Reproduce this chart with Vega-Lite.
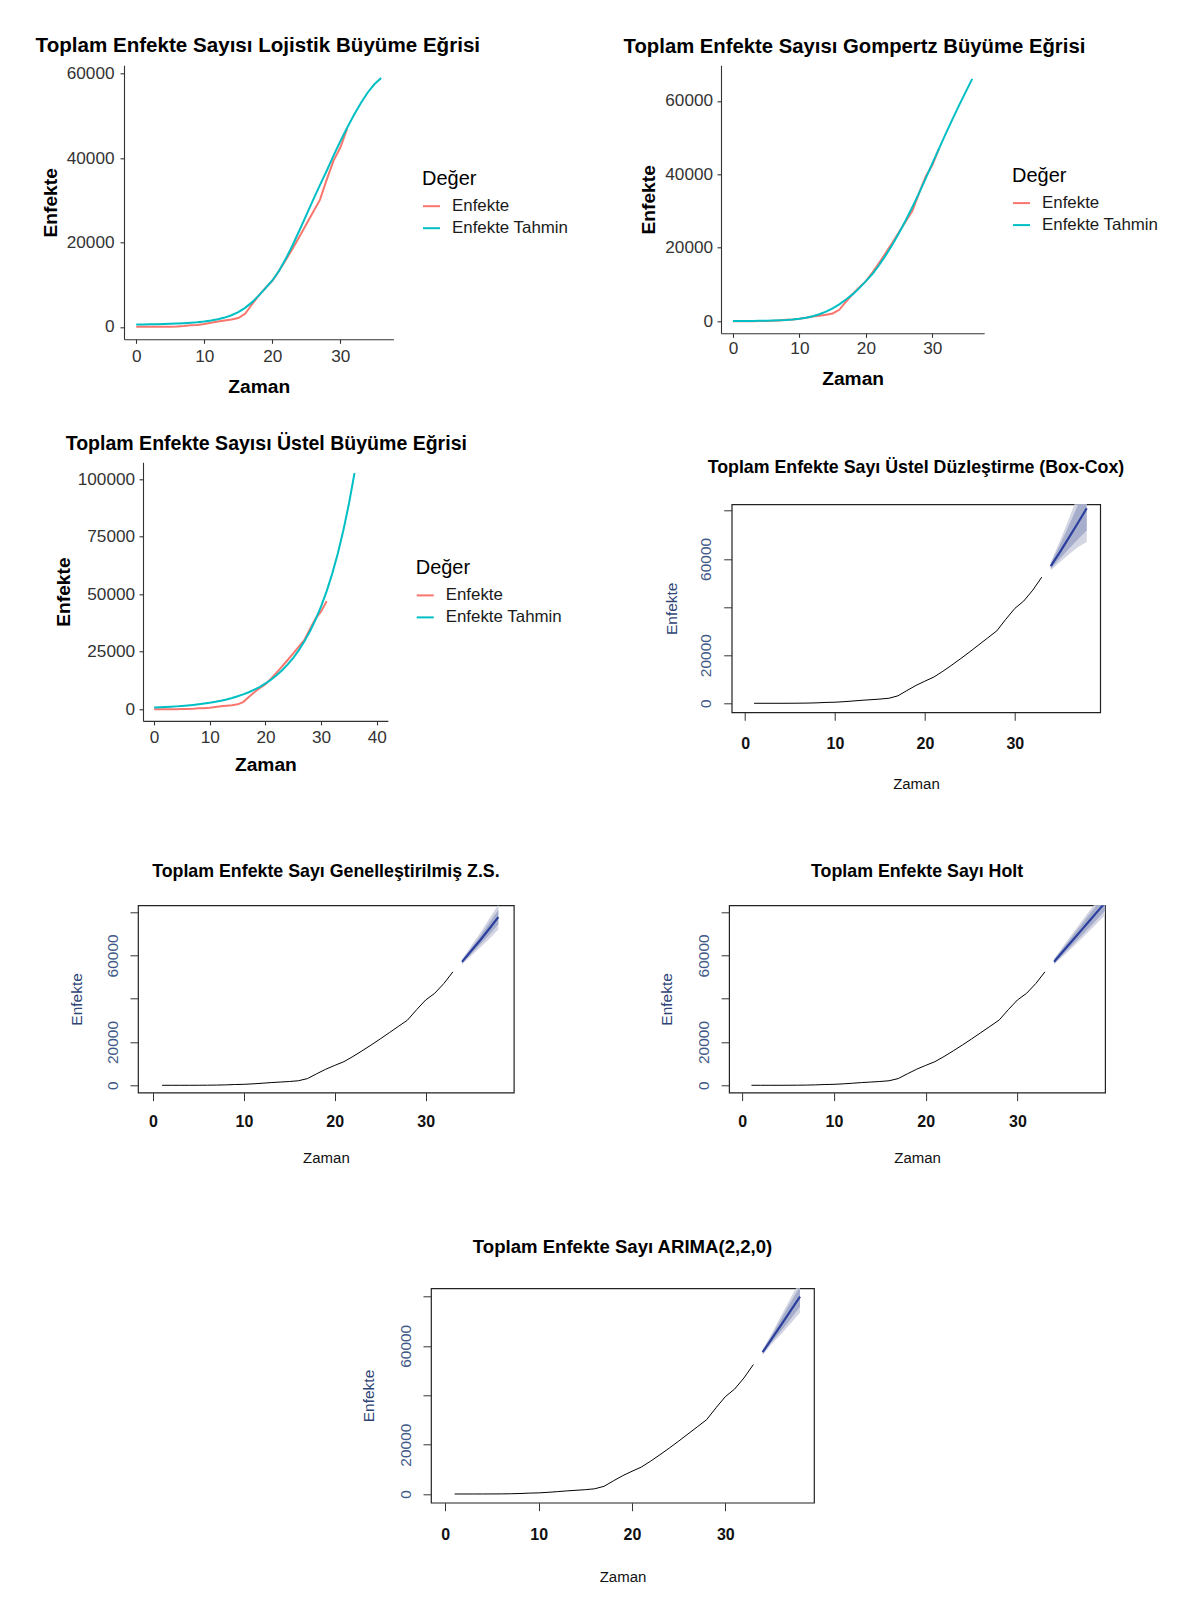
{
"$schema": "https://vega.github.io/schema/vega-lite/v6.json",
"background": "white",
"padding": {"left": 0, "top": 35.3, "right": 0, "bottom": 0},
"config": {"font": "Liberation Sans", "view": {"stroke": null}, "axis": {"grid": false}, "legend": {"padding": 0}},
"datasets": {
"gg": [
{"m":"obs","Seri":"Enfekte","Zaman":0,"Enfekte":1},{"m":"obs","Seri":"Enfekte","Zaman":1,"Enfekte":1},{"m":"obs","Seri":"Enfekte","Zaman":2,"Enfekte":5},{"m":"obs","Seri":"Enfekte","Zaman":3,"Enfekte":6},{"m":"obs","Seri":"Enfekte","Zaman":4,"Enfekte":18},{"m":"obs","Seri":"Enfekte","Zaman":5,"Enfekte":47},{"m":"obs","Seri":"Enfekte","Zaman":6,"Enfekte":98},{"m":"obs","Seri":"Enfekte","Zaman":7,"Enfekte":191},{"m":"obs","Seri":"Enfekte","Zaman":8,"Enfekte":359},{"m":"obs","Seri":"Enfekte","Zaman":9,"Enfekte":450},{"m":"obs","Seri":"Enfekte","Zaman":10,"Enfekte":670},{"m":"obs","Seri":"Enfekte","Zaman":11,"Enfekte":950},{"m":"obs","Seri":"Enfekte","Zaman":12,"Enfekte":1250},{"m":"obs","Seri":"Enfekte","Zaman":13,"Enfekte":1500},{"m":"obs","Seri":"Enfekte","Zaman":14,"Enfekte":1750},{"m":"obs","Seri":"Enfekte","Zaman":15,"Enfekte":2100},{"m":"obs","Seri":"Enfekte","Zaman":16,"Enfekte":3100},{"m":"obs","Seri":"Enfekte","Zaman":17,"Enfekte":5300},{"m":"obs","Seri":"Enfekte","Zaman":18,"Enfekte":7400},{"m":"obs","Seri":"Enfekte","Zaman":19,"Enfekte":9200},{"m":"obs","Seri":"Enfekte","Zaman":20,"Enfekte":10900},{"m":"obs","Seri":"Enfekte","Zaman":21,"Enfekte":13300},{"m":"obs","Seri":"Enfekte","Zaman":22,"Enfekte":15900},{"m":"obs","Seri":"Enfekte","Zaman":23,"Enfekte":18600},{"m":"obs","Seri":"Enfekte","Zaman":24,"Enfekte":21400},{"m":"obs","Seri":"Enfekte","Zaman":25,"Enfekte":24300},{"m":"obs","Seri":"Enfekte","Zaman":26,"Enfekte":27200},{"m":"obs","Seri":"Enfekte","Zaman":27,"Enfekte":30100},{"m":"obs","Seri":"Enfekte","Zaman":28,"Enfekte":34900},{"m":"obs","Seri":"Enfekte","Zaman":29,"Enfekte":39400},{"m":"obs","Seri":"Enfekte","Zaman":30,"Enfekte":42500},{"m":"obs","Seri":"Enfekte","Zaman":31,"Enfekte":47000},
{"m":"L","Seri":"Enfekte Tahmin","Zaman":0,"Enfekte":550},{"m":"L","Seri":"Enfekte Tahmin","Zaman":1,"Enfekte":570},{"m":"L","Seri":"Enfekte Tahmin","Zaman":2,"Enfekte":600},{"m":"L","Seri":"Enfekte Tahmin","Zaman":3,"Enfekte":630},{"m":"L","Seri":"Enfekte Tahmin","Zaman":4,"Enfekte":670},{"m":"L","Seri":"Enfekte Tahmin","Zaman":5,"Enfekte":720},{"m":"L","Seri":"Enfekte Tahmin","Zaman":6,"Enfekte":780},{"m":"L","Seri":"Enfekte Tahmin","Zaman":7,"Enfekte":860},{"m":"L","Seri":"Enfekte Tahmin","Zaman":8,"Enfekte":960},{"m":"L","Seri":"Enfekte Tahmin","Zaman":9,"Enfekte":1090},{"m":"L","Seri":"Enfekte Tahmin","Zaman":10,"Enfekte":1270},{"m":"L","Seri":"Enfekte Tahmin","Zaman":11,"Enfekte":1500},{"m":"L","Seri":"Enfekte Tahmin","Zaman":12,"Enfekte":1800},{"m":"L","Seri":"Enfekte Tahmin","Zaman":13,"Enfekte":2200},{"m":"L","Seri":"Enfekte Tahmin","Zaman":14,"Enfekte":2750},{"m":"L","Seri":"Enfekte Tahmin","Zaman":15,"Enfekte":3500},{"m":"L","Seri":"Enfekte Tahmin","Zaman":16,"Enfekte":4500},{"m":"L","Seri":"Enfekte Tahmin","Zaman":17,"Enfekte":5800},{"m":"L","Seri":"Enfekte Tahmin","Zaman":18,"Enfekte":7400},{"m":"L","Seri":"Enfekte Tahmin","Zaman":19,"Enfekte":9200},{"m":"L","Seri":"Enfekte Tahmin","Zaman":20,"Enfekte":11000},{"m":"L","Seri":"Enfekte Tahmin","Zaman":21,"Enfekte":13300},{"m":"L","Seri":"Enfekte Tahmin","Zaman":22,"Enfekte":16200},{"m":"L","Seri":"Enfekte Tahmin","Zaman":23,"Enfekte":19400},{"m":"L","Seri":"Enfekte Tahmin","Zaman":24,"Enfekte":22900},{"m":"L","Seri":"Enfekte Tahmin","Zaman":25,"Enfekte":26500},{"m":"L","Seri":"Enfekte Tahmin","Zaman":26,"Enfekte":30100},{"m":"L","Seri":"Enfekte Tahmin","Zaman":27,"Enfekte":33600},{"m":"L","Seri":"Enfekte Tahmin","Zaman":28,"Enfekte":37000},{"m":"L","Seri":"Enfekte Tahmin","Zaman":29,"Enfekte":40600},{"m":"L","Seri":"Enfekte Tahmin","Zaman":30,"Enfekte":44000},{"m":"L","Seri":"Enfekte Tahmin","Zaman":31,"Enfekte":47200},{"m":"L","Seri":"Enfekte Tahmin","Zaman":32,"Enfekte":50200},{"m":"L","Seri":"Enfekte Tahmin","Zaman":33,"Enfekte":53000},{"m":"L","Seri":"Enfekte Tahmin","Zaman":34,"Enfekte":55500},{"m":"L","Seri":"Enfekte Tahmin","Zaman":35,"Enfekte":57500},{"m":"L","Seri":"Enfekte Tahmin","Zaman":36,"Enfekte":59000},
{"m":"G","Seri":"Enfekte Tahmin","Zaman":0,"Enfekte":20},{"m":"G","Seri":"Enfekte Tahmin","Zaman":1,"Enfekte":30},{"m":"G","Seri":"Enfekte Tahmin","Zaman":2,"Enfekte":45},{"m":"G","Seri":"Enfekte Tahmin","Zaman":3,"Enfekte":65},{"m":"G","Seri":"Enfekte Tahmin","Zaman":4,"Enfekte":95},{"m":"G","Seri":"Enfekte Tahmin","Zaman":5,"Enfekte":130},{"m":"G","Seri":"Enfekte Tahmin","Zaman":6,"Enfekte":180},{"m":"G","Seri":"Enfekte Tahmin","Zaman":7,"Enfekte":250},{"m":"G","Seri":"Enfekte Tahmin","Zaman":8,"Enfekte":340},{"m":"G","Seri":"Enfekte Tahmin","Zaman":9,"Enfekte":470},{"m":"G","Seri":"Enfekte Tahmin","Zaman":10,"Enfekte":650},{"m":"G","Seri":"Enfekte Tahmin","Zaman":11,"Enfekte":950},{"m":"G","Seri":"Enfekte Tahmin","Zaman":12,"Enfekte":1350},{"m":"G","Seri":"Enfekte Tahmin","Zaman":13,"Enfekte":1900},{"m":"G","Seri":"Enfekte Tahmin","Zaman":14,"Enfekte":2600},{"m":"G","Seri":"Enfekte Tahmin","Zaman":15,"Enfekte":3500},{"m":"G","Seri":"Enfekte Tahmin","Zaman":16,"Enfekte":4600},{"m":"G","Seri":"Enfekte Tahmin","Zaman":17,"Enfekte":5900},{"m":"G","Seri":"Enfekte Tahmin","Zaman":18,"Enfekte":7300},{"m":"G","Seri":"Enfekte Tahmin","Zaman":19,"Enfekte":9000},{"m":"G","Seri":"Enfekte Tahmin","Zaman":20,"Enfekte":10900},{"m":"G","Seri":"Enfekte Tahmin","Zaman":21,"Enfekte":12900},{"m":"G","Seri":"Enfekte Tahmin","Zaman":22,"Enfekte":15300},{"m":"G","Seri":"Enfekte Tahmin","Zaman":23,"Enfekte":18000},{"m":"G","Seri":"Enfekte Tahmin","Zaman":24,"Enfekte":20900},{"m":"G","Seri":"Enfekte Tahmin","Zaman":25,"Enfekte":24100},{"m":"G","Seri":"Enfekte Tahmin","Zaman":26,"Enfekte":27500},{"m":"G","Seri":"Enfekte Tahmin","Zaman":27,"Enfekte":31100},{"m":"G","Seri":"Enfekte Tahmin","Zaman":28,"Enfekte":34900},{"m":"G","Seri":"Enfekte Tahmin","Zaman":29,"Enfekte":38900},{"m":"G","Seri":"Enfekte Tahmin","Zaman":30,"Enfekte":43000},{"m":"G","Seri":"Enfekte Tahmin","Zaman":31,"Enfekte":47000},{"m":"G","Seri":"Enfekte Tahmin","Zaman":32,"Enfekte":51000},{"m":"G","Seri":"Enfekte Tahmin","Zaman":33,"Enfekte":54900},{"m":"G","Seri":"Enfekte Tahmin","Zaman":34,"Enfekte":58700},{"m":"G","Seri":"Enfekte Tahmin","Zaman":35,"Enfekte":62400},{"m":"G","Seri":"Enfekte Tahmin","Zaman":36,"Enfekte":66000},
{"m":"U","Seri":"Enfekte Tahmin","Zaman":0,"Enfekte":700},{"m":"U","Seri":"Enfekte Tahmin","Zaman":1,"Enfekte":804},{"m":"U","Seri":"Enfekte Tahmin","Zaman":2,"Enfekte":924},{"m":"U","Seri":"Enfekte Tahmin","Zaman":3,"Enfekte":1061},{"m":"U","Seri":"Enfekte Tahmin","Zaman":4,"Enfekte":1218},{"m":"U","Seri":"Enfekte Tahmin","Zaman":5,"Enfekte":1400},{"m":"U","Seri":"Enfekte Tahmin","Zaman":6,"Enfekte":1607},{"m":"U","Seri":"Enfekte Tahmin","Zaman":7,"Enfekte":1846},{"m":"U","Seri":"Enfekte Tahmin","Zaman":8,"Enfekte":2121},{"m":"U","Seri":"Enfekte Tahmin","Zaman":9,"Enfekte":2436},{"m":"U","Seri":"Enfekte Tahmin","Zaman":10,"Enfekte":2798},{"m":"U","Seri":"Enfekte Tahmin","Zaman":11,"Enfekte":3214},{"m":"U","Seri":"Enfekte Tahmin","Zaman":12,"Enfekte":3692},{"m":"U","Seri":"Enfekte Tahmin","Zaman":13,"Enfekte":4240},{"m":"U","Seri":"Enfekte Tahmin","Zaman":14,"Enfekte":4870},{"m":"U","Seri":"Enfekte Tahmin","Zaman":15,"Enfekte":5594},{"m":"U","Seri":"Enfekte Tahmin","Zaman":16,"Enfekte":6426},{"m":"U","Seri":"Enfekte Tahmin","Zaman":17,"Enfekte":7381},{"m":"U","Seri":"Enfekte Tahmin","Zaman":18,"Enfekte":8477},{"m":"U","Seri":"Enfekte Tahmin","Zaman":19,"Enfekte":9737},{"m":"U","Seri":"Enfekte Tahmin","Zaman":20,"Enfekte":11185},{"m":"U","Seri":"Enfekte Tahmin","Zaman":21,"Enfekte":12847},{"m":"U","Seri":"Enfekte Tahmin","Zaman":22,"Enfekte":14756},{"m":"U","Seri":"Enfekte Tahmin","Zaman":23,"Enfekte":16949},{"m":"U","Seri":"Enfekte Tahmin","Zaman":24,"Enfekte":19468},{"m":"U","Seri":"Enfekte Tahmin","Zaman":25,"Enfekte":22361},{"m":"U","Seri":"Enfekte Tahmin","Zaman":26,"Enfekte":25685},{"m":"U","Seri":"Enfekte Tahmin","Zaman":27,"Enfekte":29502},{"m":"U","Seri":"Enfekte Tahmin","Zaman":28,"Enfekte":33887},{"m":"U","Seri":"Enfekte Tahmin","Zaman":29,"Enfekte":38923},{"m":"U","Seri":"Enfekte Tahmin","Zaman":30,"Enfekte":44707},{"m":"U","Seri":"Enfekte Tahmin","Zaman":31,"Enfekte":51352},{"m":"U","Seri":"Enfekte Tahmin","Zaman":32,"Enfekte":58984},{"m":"U","Seri":"Enfekte Tahmin","Zaman":33,"Enfekte":67750},{"m":"U","Seri":"Enfekte Tahmin","Zaman":34,"Enfekte":77820},{"m":"U","Seri":"Enfekte Tahmin","Zaman":35,"Enfekte":89386},{"m":"U","Seri":"Enfekte Tahmin","Zaman":36,"Enfekte":102670}
],
"seri": [
{"Zaman":1,"Enfekte":1},{"Zaman":2,"Enfekte":1},{"Zaman":3,"Enfekte":5},{"Zaman":4,"Enfekte":6},{"Zaman":5,"Enfekte":18},{"Zaman":6,"Enfekte":47},{"Zaman":7,"Enfekte":98},{"Zaman":8,"Enfekte":191},{"Zaman":9,"Enfekte":359},{"Zaman":10,"Enfekte":450},{"Zaman":11,"Enfekte":670},{"Zaman":12,"Enfekte":950},{"Zaman":13,"Enfekte":1250},{"Zaman":14,"Enfekte":1500},{"Zaman":15,"Enfekte":1750},{"Zaman":16,"Enfekte":2100},{"Zaman":17,"Enfekte":3100},{"Zaman":18,"Enfekte":5300},{"Zaman":19,"Enfekte":7400},{"Zaman":20,"Enfekte":9200},{"Zaman":21,"Enfekte":10900},{"Zaman":22,"Enfekte":13300},{"Zaman":23,"Enfekte":15900},{"Zaman":24,"Enfekte":18600},{"Zaman":25,"Enfekte":21400},{"Zaman":26,"Enfekte":24300},{"Zaman":27,"Enfekte":27200},{"Zaman":28,"Enfekte":30100},{"Zaman":29,"Enfekte":34900},{"Zaman":30,"Enfekte":39400},{"Zaman":31,"Enfekte":42500},{"Zaman":32,"Enfekte":47000},{"Zaman":33,"Enfekte":52400}
],
"fc": [
{"model":"boxcox","Zaman":34,"mean":57000,"lo80":55900,"hi80":58100,"lo95":55300,"hi95":58700},
{"model":"boxcox","Zaman":35,"mean":62700,"lo80":60000,"hi80":65600,"lo95":58600,"hi95":67200},
{"model":"boxcox","Zaman":36,"mean":68700,"lo80":64100,"hi80":73600,"lo95":61800,"hi95":76400},
{"model":"boxcox","Zaman":37,"mean":74800,"lo80":68000,"hi80":82200,"lo95":64800,"hi95":86400},
{"model":"boxcox","Zaman":38,"mean":81000,"lo80":71800,"hi80":91000,"lo95":67000,"hi95":97000},
{"model":"gzs","Zaman":34,"mean":57000,"lo80":56300,"hi80":57700,"lo95":55800,"hi95":58200},
{"model":"gzs","Zaman":35,"mean":62000,"lo80":60700,"hi80":63300,"lo95":59700,"hi95":64300},
{"model":"gzs","Zaman":36,"mean":67000,"lo80":65000,"hi80":69000,"lo95":63600,"hi95":70400},
{"model":"gzs","Zaman":37,"mean":72300,"lo80":69500,"hi80":75100,"lo95":67600,"hi95":77000},
{"model":"gzs","Zaman":38,"mean":77700,"lo80":74400,"hi80":81000,"lo95":72000,"hi95":83400},
{"model":"holt","Zaman":34,"mean":57100,"lo80":56250,"hi80":57950,"lo95":55800,"hi95":58400},
{"model":"holt","Zaman":35,"mean":62000,"lo80":60500,"hi80":63500,"lo95":59700,"hi95":64300},
{"model":"holt","Zaman":36,"mean":66900,"lo80":64800,"hi80":69000,"lo95":63700,"hi95":70100},
{"model":"holt","Zaman":37,"mean":71800,"lo80":69200,"hi80":74400,"lo95":67800,"hi95":75800},
{"model":"holt","Zaman":38,"mean":76700,"lo80":73600,"hi80":79800,"lo95":72000,"hi95":81400},
{"model":"holt","Zaman":39,"mean":81600,"lo80":78100,"hi80":85100,"lo95":76200,"hi95":87000},
{"model":"holt","Zaman":40,"mean":86500,"lo80":82600,"hi80":90400,"lo95":80500,"hi95":92500},
{"model":"arima","Zaman":34,"mean":57400,"lo80":56700,"hi80":58100,"lo95":56300,"hi95":58500},
{"model":"arima","Zaman":35,"mean":63000,"lo80":61600,"hi80":64400,"lo95":60800,"hi95":65200},
{"model":"arima","Zaman":36,"mean":68600,"lo80":66100,"hi80":71100,"lo95":64800,"hi95":72400},
{"model":"arima","Zaman":37,"mean":74200,"lo80":70800,"hi80":77600,"lo95":69000,"hi95":79400},
{"model":"arima","Zaman":38,"mean":79900,"lo80":75800,"hi80":84000,"lo95":73500,"hi95":86300}
]
},
"spacing": 0,
"align": "none",
"resolve": {"scale": {"x": "independent", "y": "independent", "color": "independent"}, "axis": {"x": "independent", "y": "independent"}, "legend": {"color": "independent"}},
"vconcat": [
{
"hconcat": [
{"width": 34.4, "height": 1, "data": {"values": []}, "mark": "point", "encoding": {}},
{
"hconcat": [
{
"width": 269.4, "height": 274,
"data": {"name": "gg"},
"transform": [{"filter": "datum.m == 'obs' || datum.m == 'L'"}],
"title": {"text": "Toplam Enfekte Sayısı Lojistik Büyüme Eğrisi", "anchor": "start", "frame": "group", "dx": -88.4, "offset": 8, "fontSize": 20.6, "fontWeight": "bold", "color": "#000"},
"mark": {"type": "line", "strokeWidth": 2},
"encoding": {
"x": {"field": "Zaman", "type": "quantitative", "scale": {"domain": [-1.8, 37.8], "nice": false, "zero": false},
 "axis": {"values": [0, 10, 20, 30], "domainColor": "#333", "domainWidth": 1.1, "tickColor": "#333", "tickWidth": 1.1, "tickSize": 4, "labelFontSize": 17.2, "labelColor": "#333", "labelPadding": 4, "labelFlush": false, "labelOverlap": false, "title": "Zaman", "titleFontSize": 19.2, "titleFontWeight": "bold", "titleColor": "#000", "titleX": 134.7, "titleY": 47.7, "titleBaseline": "middle", "titleAlign": "center"}},
"y": {"field": "Enfekte", "type": "quantitative", "scale": {"domain": [-2950, 62000], "nice": false, "zero": false},
 "axis": {"values": [0, 20000, 40000, 60000], "format": "d", "domainColor": "#333", "domainWidth": 1.1, "tickColor": "#333", "tickWidth": 1.1, "tickSize": 4, "labelFontSize": 17.2, "labelColor": "#333", "labelPadding": 6, "labelFlush": false, "labelOverlap": false, "title": "Enfekte", "titleFontSize": 19.2, "titleFontWeight": "bold", "titleColor": "#000", "titleX": -73.1, "titleY": 137, "titleAngle": 270, "titleBaseline": "middle", "titleAlign": "center"}},
"color": {"field": "Seri", "type": "nominal", "scale": {"domain": ["Enfekte", "Enfekte Tahmin"], "range": ["#F8766D", "#00BFC4"]},
 "legend": {"title": "Değer", "orient": "none", "legendX": 298, "legendY": 103.4, "titleFontSize": 20, "titleFontWeight": "normal", "titleColor": "#000", "titlePadding": 8, "labelFontSize": 16.9, "labelColor": "#1a1a1a", "symbolType": "stroke", "symbolStrokeWidth": 2, "symbolSize": 289, "labelOffset": 11, "rowPadding": 4, "padding": 0}}
}
},
{
"width": 263.2, "height": 268,
"data": {"name": "gg"},
"transform": [{"filter": "datum.m == 'obs' || datum.m == 'G'"}],
"title": {"text": "Toplam Enfekte Sayısı Gompertz Büyüme Eğrisi", "anchor": "start", "frame": "group", "dx": -97.4, "offset": 8, "fontSize": 20.3, "fontWeight": "bold", "color": "#000"},
"mark": {"type": "line", "strokeWidth": 2},
"encoding": {
"x": {"field": "Zaman", "type": "quantitative", "scale": {"domain": [-1.8, 37.8], "nice": false, "zero": false},
 "axis": {"values": [0, 10, 20, 30], "domainColor": "#333", "domainWidth": 1.1, "tickColor": "#333", "tickWidth": 1.1, "tickSize": 4, "labelFontSize": 17.2, "labelColor": "#333", "labelPadding": 2.6, "labelFlush": false, "labelOverlap": false, "title": "Zaman", "titleFontSize": 19.2, "titleFontWeight": "bold", "titleColor": "#000", "titleX": 131.6, "titleY": 45, "titleBaseline": "middle", "titleAlign": "center"}},
"y": {"field": "Enfekte", "type": "quantitative", "scale": {"domain": [-3300, 69700], "nice": false, "zero": false},
 "axis": {"values": [0, 20000, 40000, 60000], "format": "d", "domainColor": "#333", "domainWidth": 1.1, "tickColor": "#333", "tickWidth": 1.1, "tickSize": 4, "labelFontSize": 17.2, "labelColor": "#333", "labelPadding": 4.4, "labelFlush": false, "labelOverlap": false, "title": "Enfekte", "titleFontSize": 19.2, "titleFontWeight": "bold", "titleColor": "#000", "titleX": -72.8, "titleY": 134, "titleAngle": 270, "titleBaseline": "middle", "titleAlign": "center"}},
"color": {"field": "Seri", "type": "nominal", "scale": {"domain": ["Enfekte", "Enfekte Tahmin"], "range": ["#F8766D", "#00BFC4"]},
 "legend": {"title": "Değer", "orient": "none", "legendX": 291, "legendY": 100.3, "titleFontSize": 20, "titleFontWeight": "normal", "titleColor": "#000", "titlePadding": 8, "labelFontSize": 16.9, "labelColor": "#1a1a1a", "symbolType": "stroke", "symbolStrokeWidth": 2, "symbolSize": 289, "labelOffset": 11, "rowPadding": 4, "padding": 0}}
}
}
],
"spacing": 54,
"align": "none",
"resolve": {"scale": {"x": "independent", "y": "independent", "color": "independent"}, "axis": {"x": "independent", "y": "independent"}, "legend": {"color": "independent"}}
}
],
"spacing": 0,
"align": "none"
},
{"width": 1, "height": 35, "data": {"values": []}, "mark": "point", "encoding": {}},
{
"hconcat": [
{"width": 54, "height": 1, "data": {"values": []}, "mark": "point", "encoding": {}},
{
"hconcat": [
{
"vconcat": [
{"width": 1, "height": 1, "data": {"values": []}, "mark": "point", "encoding": {}},
{
"width": 244.9, "height": 258.6,
"data": {"name": "gg"},
"transform": [{"filter": "datum.m == 'obs' || datum.m == 'U'"}],
"title": {"text": "Toplam Enfekte Sayısı Üstel Büyüme Eğrisi", "anchor": "start", "frame": "group", "dx": -77.3, "offset": 8, "fontSize": 19.55, "fontWeight": "bold", "color": "#000"},
"mark": {"type": "line", "strokeWidth": 2},
"encoding": {
"x": {"field": "Zaman", "type": "quantitative", "scale": {"domain": [-2, 42], "nice": false, "zero": false},
 "axis": {"values": [0, 10, 20, 30, 40], "domainColor": "#333", "domainWidth": 1.1, "tickColor": "#333", "tickWidth": 1.1, "tickSize": 4, "labelFontSize": 17.2, "labelColor": "#333", "labelPadding": 3.2, "labelFlush": false, "labelOverlap": false, "title": "Zaman", "titleFontSize": 19.2, "titleFontWeight": "bold", "titleColor": "#000", "titleX": 122.4, "titleY": 43.7, "titleBaseline": "middle", "titleAlign": "center"}},
"y": {"field": "Enfekte", "type": "quantitative", "scale": {"domain": [-5100, 107400], "nice": false, "zero": false},
 "axis": {"values": [0, 25000, 50000, 75000, 100000], "format": "d", "domainColor": "#333", "domainWidth": 1.1, "tickColor": "#333", "tickWidth": 1.1, "tickSize": 4, "labelFontSize": 17.2, "labelColor": "#333", "labelPadding": 4.4, "labelFlush": false, "labelOverlap": false, "title": "Enfekte", "titleFontSize": 19.2, "titleFontWeight": "bold", "titleColor": "#000", "titleX": -79.3, "titleY": 129.3, "titleAngle": 270, "titleBaseline": "middle", "titleAlign": "center"}},
"color": {"field": "Seri", "type": "nominal", "scale": {"domain": ["Enfekte", "Enfekte Tahmin"], "range": ["#F8766D", "#00BFC4"]},
 "legend": {"title": "Değer", "orient": "none", "legendX": 272.7, "legendY": 95.6, "titleFontSize": 20, "titleFontWeight": "normal", "titleColor": "#000", "titlePadding": 8, "labelFontSize": 16.9, "labelColor": "#1a1a1a", "symbolType": "stroke", "symbolStrokeWidth": 2, "symbolSize": 289, "labelOffset": 11, "rowPadding": 4, "padding": 0}}
}
}
],
"spacing": 0,
"align": "none",
"resolve": {"scale": {"color": "independent"}, "legend": {"color": "independent"}}
},
{
"vconcat": [
{"width": 1, "height": 25.5, "data": {"values": []}, "mark": "point", "encoding": {}},
{
"width": 368.5, "height": 208,
"view": {"stroke": "#222", "strokeWidth": 1.2},
"title": {"text": "Toplam Enfekte Sayı Üstel Düzleştirme (Box-Cox)", "anchor": "middle", "frame": "group", "offset": 27, "fontSize": 17.8, "fontWeight": "bold", "color": "#000"},
"encoding": {
"x": {"field": "Zaman", "type": "quantitative", "title": "Zaman", "scale": {"domain": [-1.49, 39.5], "nice": false, "zero": false},
 "axis": {"values": [0, 10, 20, 30], "domain": false, "tickSize": 8, "tickColor": "#333", "tickWidth": 1, "labelFontSize": 16, "labelFontWeight": "bold", "labelColor": "#111", "labelPadding": 15, "labelFlush": false, "labelOverlap": false, "titleFontSize": 15, "titleFontWeight": "normal", "titleColor": "#111", "titleX": 184.25, "titleY": 71.7, "titleBaseline": "middle", "titleAlign": "center"}}
},
"layer": [
{"data": {"name": "fc"}, "transform": [{"filter": "datum.model == 'boxcox'"}], "mark": {"type": "area", "color": "#D3D6E2", "clip": true},
 "encoding": {"y": {"field": "lo95", "type": "quantitative", "title": "Enfekte", "scale": {"domain": [-3738, 82658], "nice": false, "zero": false},
  "axis": {"values": [0, 20000, 40000, 60000, 80000], "format": "d", "labelExpr": "datum.value == 40000 || datum.value == 80000 ? '' : datum.label", "domain": false, "tickSize": 8, "tickColor": "#333", "tickWidth": 1, "labelAngle": 270, "labelAlign": "center", "labelBaseline": "bottom", "labelPadding": 10, "labelFontSize": 15.5, "labelColor": "#3f5a88", "labelFlush": false, "labelOverlap": false, "titleFontSize": 15.5, "titleFontWeight": "normal", "titleColor": "#2e4476", "titleX": -60.4, "titleY": 104, "titleAngle": 270, "titleBaseline": "middle", "titleAlign": "center"}},
  "y2": {"field": "hi95"}}},
{"data": {"name": "fc"}, "transform": [{"filter": "datum.model == 'boxcox'"}], "mark": {"type": "area", "color": "#A7AECB", "clip": true},
 "encoding": {"y": {"field": "lo80", "type": "quantitative", "title": "Enfekte"}, "y2": {"field": "hi80"}}},
{"data": {"name": "seri"}, "mark": {"type": "line", "color": "#000", "strokeWidth": 1, "clip": true},
 "encoding": {"y": {"field": "Enfekte", "type": "quantitative", "title": "Enfekte"}}},
{"data": {"name": "fc"}, "transform": [{"filter": "datum.model == 'boxcox'"}], "mark": {"type": "line", "color": "#2B3F9E", "strokeWidth": 2.2, "clip": true},
 "encoding": {"y": {"field": "mean", "type": "quantitative", "title": "Enfekte"}}}
]
}
],
"spacing": 0,
"align": "none"
}
],
"spacing": 100.7,
"align": "none",
"resolve": {"scale": {"x": "independent", "y": "independent", "color": "independent"}, "axis": {"x": "independent", "y": "independent"}, "legend": {"color": "independent"}}
}
],
"spacing": 0,
"align": "none"
},
{"width": 1, "height": 68.5, "data": {"values": []}, "mark": "point", "encoding": {}},
{
"hconcat": [
{"width": 67.5, "height": 1, "data": {"values": []}, "mark": "point", "encoding": {}},
{
"hconcat": [
{
"width": 375.8, "height": 187.3,
"view": {"stroke": "#222", "strokeWidth": 1.2},
"title": {"text": "Toplam Enfekte Sayı Genelleştirilmiş Z.S.", "anchor": "middle", "frame": "group", "offset": 24, "fontSize": 17.8, "fontWeight": "bold", "color": "#000"},
"encoding": {
"x": {"field": "Zaman", "type": "quantitative", "title": "Zaman", "scale": {"domain": [-1.65, 39.7], "nice": false, "zero": false},
 "axis": {"values": [0, 10, 20, 30], "domain": false, "tickSize": 8, "tickColor": "#333", "tickWidth": 1, "labelFontSize": 16, "labelFontWeight": "bold", "labelColor": "#111", "labelPadding": 12.7, "labelFlush": false, "labelOverlap": false, "titleFontSize": 15, "titleFontWeight": "normal", "titleColor": "#111", "titleX": 187.9, "titleY": 65, "titleBaseline": "middle", "titleAlign": "center"}}
},
"layer": [
{"data": {"name": "fc"}, "transform": [{"filter": "datum.model == 'gzs'"}], "mark": {"type": "area", "color": "#D3D6E2", "clip": true},
 "encoding": {"y": {"field": "lo95", "type": "quantitative", "title": "Enfekte", "scale": {"domain": [-3372, 83140], "nice": false, "zero": false},
  "axis": {"values": [0, 20000, 40000, 60000, 80000], "format": "d", "labelExpr": "datum.value == 40000 || datum.value == 80000 ? '' : datum.label", "domain": false, "tickSize": 8, "tickColor": "#333", "tickWidth": 1, "labelAngle": 270, "labelAlign": "center", "labelBaseline": "bottom", "labelPadding": 10, "labelFontSize": 15.5, "labelColor": "#3f5a88", "labelFlush": false, "labelOverlap": false, "titleFontSize": 15.5, "titleFontWeight": "normal", "titleColor": "#2e4476", "titleX": -61.6, "titleY": 93.65, "titleAngle": 270, "titleBaseline": "middle", "titleAlign": "center"}},
  "y2": {"field": "hi95"}}},
{"data": {"name": "fc"}, "transform": [{"filter": "datum.model == 'gzs'"}], "mark": {"type": "area", "color": "#A7AECB", "clip": true},
 "encoding": {"y": {"field": "lo80", "type": "quantitative", "title": "Enfekte"}, "y2": {"field": "hi80"}}},
{"data": {"name": "seri"}, "mark": {"type": "line", "color": "#000", "strokeWidth": 1, "clip": true},
 "encoding": {"y": {"field": "Enfekte", "type": "quantitative", "title": "Enfekte"}}},
{"data": {"name": "fc"}, "transform": [{"filter": "datum.model == 'gzs'"}], "mark": {"type": "line", "color": "#2B3F9E", "strokeWidth": 2.2, "clip": true},
 "encoding": {"y": {"field": "mean", "type": "quantitative", "title": "Enfekte"}}}
]
},
{
"width": 376, "height": 187.3,
"view": {"stroke": "#222", "strokeWidth": 1.2},
"title": {"text": "Toplam Enfekte Sayı Holt", "anchor": "middle", "frame": "group", "offset": 24, "fontSize": 17.8, "fontWeight": "bold", "color": "#000"},
"encoding": {
"x": {"field": "Zaman", "type": "quantitative", "title": "Zaman", "scale": {"domain": [-1.44, 39.56], "nice": false, "zero": false},
 "axis": {"values": [0, 10, 20, 30], "domain": false, "tickSize": 8, "tickColor": "#333", "tickWidth": 1, "labelFontSize": 16, "labelFontWeight": "bold", "labelColor": "#111", "labelPadding": 12.7, "labelFlush": false, "labelOverlap": false, "titleFontSize": 15, "titleFontWeight": "normal", "titleColor": "#111", "titleX": 188, "titleY": 64.7, "titleBaseline": "middle", "titleAlign": "center"}}
},
"layer": [
{"data": {"name": "fc"}, "transform": [{"filter": "datum.model == 'holt'"}], "mark": {"type": "area", "color": "#D3D6E2", "clip": true},
 "encoding": {"y": {"field": "lo95", "type": "quantitative", "title": "Enfekte", "scale": {"domain": [-3372, 83140], "nice": false, "zero": false},
  "axis": {"values": [0, 20000, 40000, 60000, 80000], "format": "d", "labelExpr": "datum.value == 40000 || datum.value == 80000 ? '' : datum.label", "domain": false, "tickSize": 8, "tickColor": "#333", "tickWidth": 1, "labelAngle": 270, "labelAlign": "center", "labelBaseline": "bottom", "labelPadding": 10, "labelFontSize": 15.5, "labelColor": "#3f5a88", "labelFlush": false, "labelOverlap": false, "titleFontSize": 15.5, "titleFontWeight": "normal", "titleColor": "#2e4476", "titleX": -62.6, "titleY": 93.65, "titleAngle": 270, "titleBaseline": "middle", "titleAlign": "center"}},
  "y2": {"field": "hi95"}}},
{"data": {"name": "fc"}, "transform": [{"filter": "datum.model == 'holt'"}], "mark": {"type": "area", "color": "#A7AECB", "clip": true},
 "encoding": {"y": {"field": "lo80", "type": "quantitative", "title": "Enfekte"}, "y2": {"field": "hi80"}}},
{"data": {"name": "seri"}, "mark": {"type": "line", "color": "#000", "strokeWidth": 1, "clip": true},
 "encoding": {"y": {"field": "Enfekte", "type": "quantitative", "title": "Enfekte"}}},
{"data": {"name": "fc"}, "transform": [{"filter": "datum.model == 'holt'"}], "mark": {"type": "line", "color": "#2B3F9E", "strokeWidth": 2.2, "clip": true},
 "encoding": {"y": {"field": "mean", "type": "quantitative", "title": "Enfekte"}}}
]
}
],
"spacing": 143.1,
"align": "none",
"resolve": {"scale": {"x": "independent", "y": "independent"}, "axis": {"x": "independent", "y": "independent"}}
}
],
"spacing": 0,
"align": "none"
},
{"width": 1, "height": 70.4, "data": {"values": []}, "mark": "point", "encoding": {}},
{
"hconcat": [
{"width": 359.5, "height": 1, "data": {"values": []}, "mark": "point", "encoding": {}},
{
"width": 383, "height": 214.4,
"view": {"stroke": "#222", "strokeWidth": 1.2},
"title": {"text": "Toplam Enfekte Sayı ARIMA(2,2,0)", "anchor": "middle", "frame": "group", "offset": 31.6, "fontSize": 18.6, "fontWeight": "bold", "color": "#000"},
"encoding": {
"x": {"field": "Zaman", "type": "quantitative", "title": "Zaman", "scale": {"domain": [-1.53, 39.5], "nice": false, "zero": false},
 "axis": {"values": [0, 10, 20, 30], "domain": false, "tickSize": 8, "tickColor": "#333", "tickWidth": 1, "labelFontSize": 16, "labelFontWeight": "bold", "labelColor": "#111", "labelPadding": 16.3, "labelFlush": false, "labelOverlap": false, "titleFontSize": 15, "titleFontWeight": "normal", "titleColor": "#111", "titleX": 191.5, "titleY": 74, "titleBaseline": "middle", "titleAlign": "center"}}
},
"layer": [
{"data": {"name": "fc"}, "transform": [{"filter": "datum.model == 'arima'"}], "mark": {"type": "area", "color": "#D3D6E2", "clip": true},
 "encoding": {"y": {"field": "lo95", "type": "quantitative", "title": "Enfekte", "scale": {"domain": [-3522, 83280], "nice": false, "zero": false},
  "axis": {"values": [0, 20000, 40000, 60000, 80000], "format": "d", "labelExpr": "datum.value == 40000 || datum.value == 80000 ? '' : datum.label", "domain": false, "tickSize": 8, "tickColor": "#333", "tickWidth": 1, "labelAngle": 270, "labelAlign": "center", "labelBaseline": "bottom", "labelPadding": 10, "labelFontSize": 15.5, "labelColor": "#3f5a88", "labelFlush": false, "labelOverlap": false, "titleFontSize": 15.5, "titleFontWeight": "normal", "titleColor": "#2e4476", "titleX": -62.7, "titleY": 107.2, "titleAngle": 270, "titleBaseline": "middle", "titleAlign": "center"}},
  "y2": {"field": "hi95"}}},
{"data": {"name": "fc"}, "transform": [{"filter": "datum.model == 'arima'"}], "mark": {"type": "area", "color": "#A7AECB", "clip": true},
 "encoding": {"y": {"field": "lo80", "type": "quantitative", "title": "Enfekte"}, "y2": {"field": "hi80"}}},
{"data": {"name": "seri"}, "mark": {"type": "line", "color": "#000", "strokeWidth": 1, "clip": true},
 "encoding": {"y": {"field": "Enfekte", "type": "quantitative", "title": "Enfekte"}}},
{"data": {"name": "fc"}, "transform": [{"filter": "datum.model == 'arima'"}], "mark": {"type": "line", "color": "#2B3F9E", "strokeWidth": 2.2, "clip": true},
 "encoding": {"y": {"field": "mean", "type": "quantitative", "title": "Enfekte"}}}
]
}
],
"spacing": 0,
"align": "none"
}
]
}
